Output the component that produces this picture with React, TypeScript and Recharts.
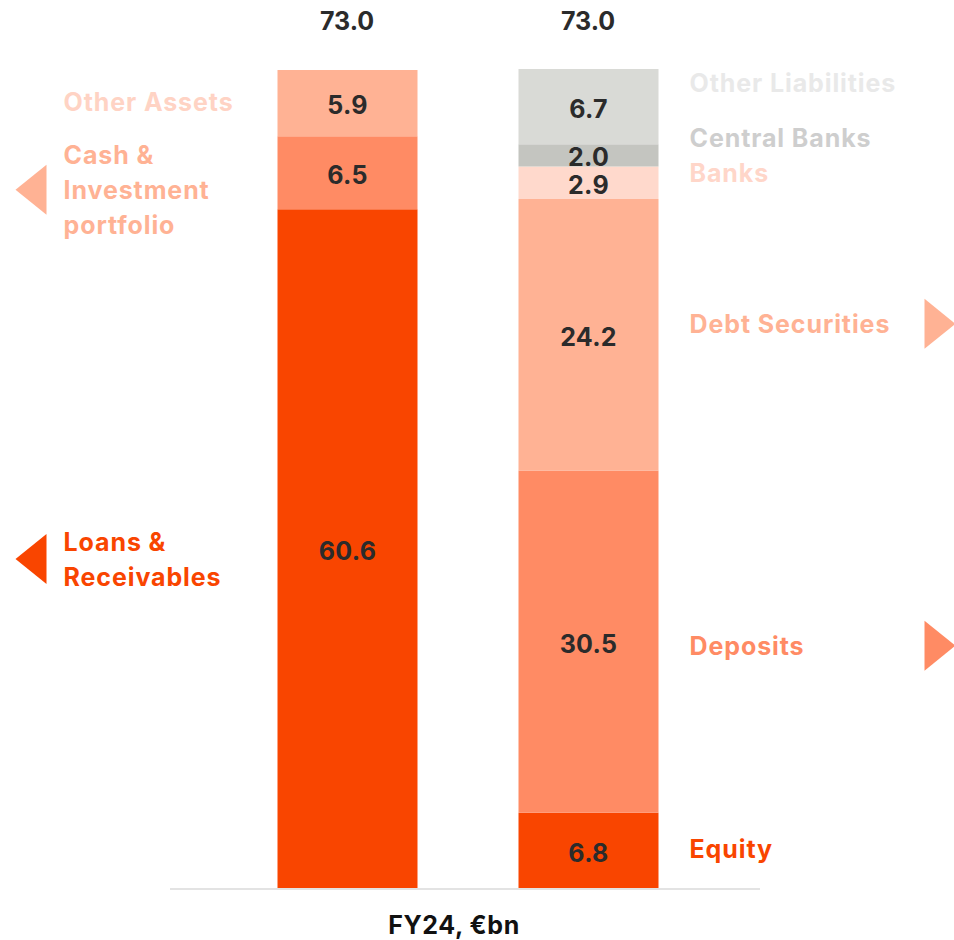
import { BarChart, Bar, XAxis, YAxis, LabelList } from 'recharts';

const categories = ['Assets', 'Liabilities'];
const totals = [73.0, 73.0];

// stacked from the bottom up
const assetNames = ['Loans &\nReceivables', 'Cash &\nInvestment\nportfolio', 'Other Assets'];
const assetValues = [60.6, 6.5, 5.9];
const liabilityNames = ['Equity', 'Deposits', 'Debt Securities', 'Banks', 'Central Banks', 'Other Liabilities'];
const liabilityValues = [6.8, 30.5, 24.2, 2.9, 2.0, 6.7];

const layerKeys = ['l0', 'l1', 'l2', 'l3', 'l4', 'l5'];
const layerFills = ['#F94500', '#FF8B64', '#FFB294', '#FFD9CC', '#C4C5C0', '#D9DAD6'];

const assetTextColors = ['#F94500', '#FFB294', '#FFD3C4'];
const liabilityTextColors = ['#F94500', '#FF8B64', '#FFB294', '#FFD6C9', '#CECECE', '#E9E9E9'];
// nudges so the side labels sit where the slide put them
const assetShift = [10, 17, -1];
const liabilityShift = [-2, 4, -11, -10, -17, -24];
const assetArrow = [true, true, false];
const liabilityArrow = [false, true, true, false, false, false];

const data = categories.map((name, row) => {
  const vals = row === 0 ? assetValues : liabilityValues;
  const o: Record<string, any> = { name };
  vals.forEach((v, i) => (o[layerKeys[i]] = v));
  return o;
});

const FONT = 'Inter, "Open Sans", sans-serif';
const LINE = 35;
const FS = 25;

function makeLabel(layer: number) {
  return (props: any) => {
    const { x, y, width, height } = props;
    // left bar is assets, right bar is liabilities
    const row = x < 450 ? 0 : 1;
    const vals = row === 0 ? assetValues : liabilityValues;
    const v = vals[layer];
    if (v === undefined) return null;
    const cx = x + width / 2;
    const cy = y + height / 2;

    const names = row === 0 ? assetNames : liabilityNames;
    const color = (row === 0 ? assetTextColors : liabilityTextColors)[layer];
    const ly = cy + (row === 0 ? assetShift : liabilityShift)[layer];
    const arrow = (row === 0 ? assetArrow : liabilityArrow)[layer];
    const lines = names[layer].split('\n');
    const tx = row === 0 ? x - 214 : x + width + 31;
    const top = ly - ((lines.length - 1) * LINE) / 2;

    let tri = null;
    if (arrow) {
      if (row === 0) {
        const ax = x - 262;
        tri = <polygon points={`${ax},${ly} ${ax + 31},${ly - 25} ${ax + 31},${ly + 25}`} fill={color} />;
      } else {
        const ax = x + width + 297;
        tri = <polygon points={`${ax},${ly} ${ax - 31},${ly - 25} ${ax - 31},${ly + 25}`} fill={color} />;
      }
    }

    return (
      <g>
        <text x={cx} y={cy + 2} textAnchor="middle" dominantBaseline="central"
          fontFamily={FONT} fontWeight={700} fontSize={FS} fill="#2B2B2B" letterSpacing={0.3}>
          {v.toFixed(1)}
        </text>
        {lines.map((t, i) => (
          <text key={i} x={tx} y={top + i * LINE} textAnchor="start" dominantBaseline="central"
            fontFamily={FONT} fontWeight={700} fontSize={FS} fill={color} letterSpacing={0.9}>
            {t}
          </text>
        ))}
        {tri}
      </g>
    );
  };
}

const pad = { left: 56.5, right: 51.5 };

export default function App() {
  return (
    <div style={{ position: 'absolute', left: 0, top: 0, width: 954, height: 940, background: '#fff' }}>
      <BarChart width={954} height={940} data={data}
        margin={{ top: 0, right: 194, bottom: 21, left: 170 }}>
        <XAxis dataKey="name" padding={pad} height={30} tick={false} tickLine={false}
          axisLine={{ stroke: '#E3E3E3', strokeWidth: 2 }}
          label={{
            content: (p: any) => {
              const vb = p.viewBox;
              return (
                <text x={vb.x + vb.width / 2 - 11} y={vb.y + 36} textAnchor="middle" dominantBaseline="central"
                  fontFamily={FONT} fontWeight={700} fontSize={FS} fill="#111" letterSpacing={0.6}>
                  FY24, €bn
                </text>
              );
            },
          }} />
        <XAxis xAxisId="top" orientation="top" dataKey="name" padding={pad} height={69}
          axisLine={false} tickLine={false} tickSize={0} tickMargin={39}
          tick={{ fontFamily: FONT, fontWeight: 700, fontSize: FS, fill: '#2B2B2B' }}
          tickFormatter={(v: string) => totals[categories.indexOf(v)].toFixed(1)} />
        <YAxis hide domain={[0, 73.1]} allowDataOverflow />
        {layerKeys.map((k, i) => (
          <Bar key={k} dataKey={k} stackId="bs" fill={layerFills[i]} barSize={140} isAnimationActive={false}>
            <LabelList dataKey={k} content={makeLabel(i)} />
          </Bar>
        ))}
      </BarChart>
    </div>
  );
}
